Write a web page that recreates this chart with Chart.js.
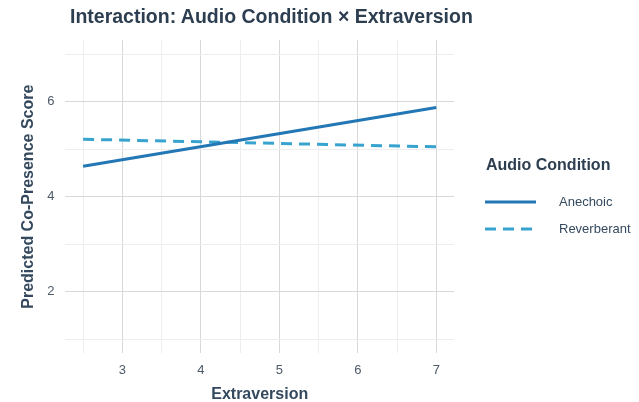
<!DOCTYPE html>
<html>
	<head>
		<title>Interaction: Audio Condition × Extraversion</title>
		<script src="https://cdn.jsdelivr.net/npm/chart.js@4.4.0/dist/chart.umd.min.js"></script>
		<style>
			body { margin: 0; background: #fff; }
			#wrap { position: relative; width: 639px; height: 402px; }
			h1 {
				position: absolute; left: 70px; top: 5px; margin: 0;
				font: bold 19.5px "Liberation Sans", Arial, sans-serif; color: #2c3e50;
			}
		</style>
	</head>
	<body>
		<div id="wrap">
			<canvas id="myChart" width="639" height="402"></canvas>
			<h1>Interaction: Audio Condition × Extraversion</h1>
		</div>
		<script>
			// dane
			const extraversion = [2.5, 7]
			const anechoic = [4.64, 5.88]
			const reverberant = [5.21, 5.05]
			const seriesNames = ['Anechoic', 'Reverberant']
			const xTicks = [2.5, 3, 3.5, 4, 4.5, 5, 5.5, 6, 6.5, 7]
			const yTicks = [1, 2, 3, 4, 5, 6, 7]

			const colors = ['#2277b4', '#38a3cf']
			const fontFamily = '"Liberation Sans", Arial, sans-serif'

			function points (ys) {
				return extraversion.map((x, i) => ({ x: x, y: ys[i] }))
			}

			// legenda po prawej stronie
			const sideLegend = {
				id: 'sideLegend',
				afterDraw (chart) {
					const ctx = chart.ctx
					const left = chart.chartArea.right
					ctx.save()
					ctx.fillStyle = '#2c3e50'
					ctx.font = 'bold 16px ' + fontFamily
					ctx.textBaseline = 'middle'
					ctx.fillText('Audio Condition', left + 32, 166)
					chart.data.datasets.forEach((ds, i) => {
						const y = 202 + i * 27
						ctx.strokeStyle = ds.borderColor
						ctx.lineWidth = ds.borderWidth
						ctx.setLineDash(ds.borderDash || [])
						ctx.beginPath()
						ctx.moveTo(left + 31, y)
						ctx.lineTo(left + 82, y)
						ctx.stroke()
						ctx.setLineDash([])
						ctx.fillStyle = '#34495e'
						ctx.font = '13px ' + fontFamily
						ctx.fillText(ds.label, left + 105, y)
					})
					ctx.restore()
				}
			}

			const ctx = document.getElementById('myChart').getContext('2d')
			const chart = new Chart(ctx, {
				type: 'line',
				data: {
					datasets: [{
						label: seriesNames[0],
						data: points(anechoic),
						borderColor: colors[0],
						borderWidth: 3,
						pointRadius: 0
					}, {
						label: seriesNames[1],
						data: points(reverberant),
						borderColor: colors[1],
						borderWidth: 3,
						borderDash: [11, 7],
						pointRadius: 0
					}]
				},
				options: {
					responsive: false,
					animation: false,
					layout: { padding: { top: 40, right: 185, left: 14, bottom: -1 } },
					plugins: {
						legend: { display: false },
						tooltip: { enabled: false }
					},
					scales: {
						x: {
							type: 'linear',
							min: 2.275,
							max: 7.225,
							afterBuildTicks: (scale) => { scale.ticks = xTicks.map(v => ({ value: v })) },
							border: { display: false },
							grid: {
								drawTicks: false,
								tickLength: 0,
								color: (c) => Number.isInteger(c.tick.value) ? '#d8d8d8' : '#eeeeee'
							},
							ticks: {
								padding: 9,
								color: '#4d5a68',
								font: { family: fontFamily, size: 13 },
								callback: (v) => Number.isInteger(v) ? v : ''
							},
							title: {
								display: true,
								text: 'Extraversion',
								color: '#34495e',
								font: { family: fontFamily, size: 16, weight: 'bold', lineHeight: 1 },
								padding: { top: 0, bottom: 0 }
							}
						},
						y: {
							min: 0.7,
							max: 7.3,
							afterBuildTicks: (scale) => { scale.ticks = yTicks.map(v => ({ value: v })) },
							border: { display: false },
							grid: {
								drawTicks: false,
								tickLength: 0,
								color: (c) => c.tick.value % 2 == 0 ? '#d8d8d8' : '#eeeeee'
							},
							ticks: {
								padding: 11,
								color: '#4d5a68',
								font: { family: fontFamily, size: 13 },
								callback: (v) => v % 2 == 0 ? v : ''
							},
							title: {
								display: true,
								text: 'Predicted Co-Presence Score',
								color: '#34495e',
								font: { family: fontFamily, size: 16, weight: 'bold' },
								padding: { top: 5, bottom: -2 }
							}
						}
					}
				},
				plugins: [sideLegend]
			})
		</script>
	</body>
</html>
